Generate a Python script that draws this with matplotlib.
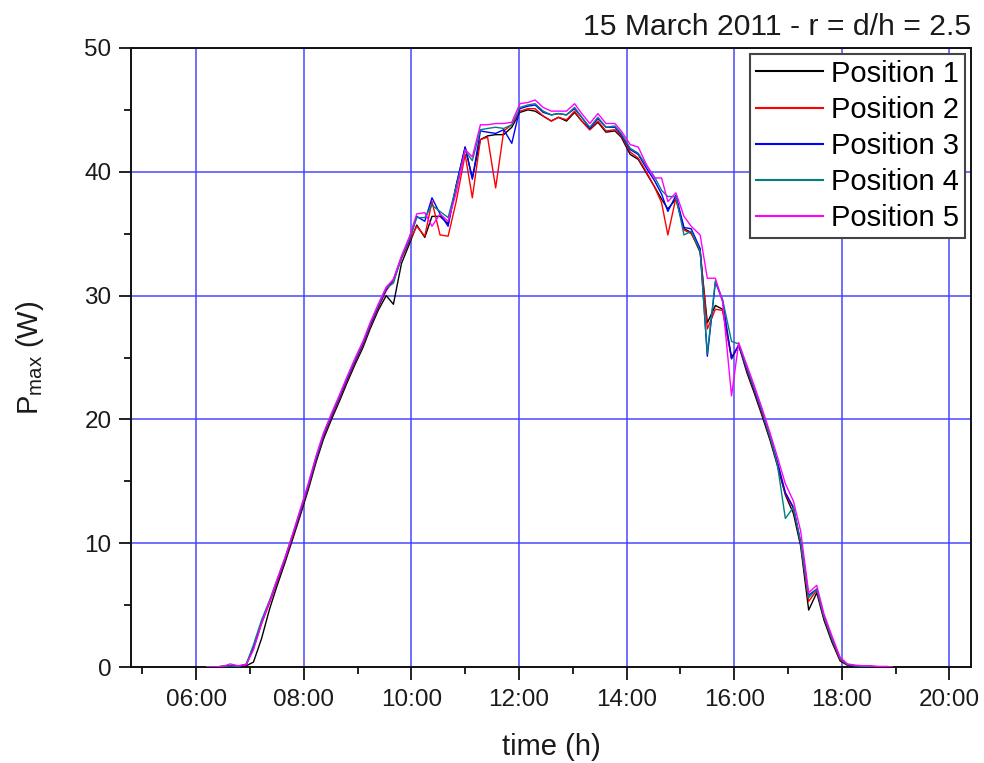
import matplotlib
matplotlib.use("Agg")
import matplotlib.pyplot as plt
from matplotlib.ticker import MultipleLocator, FuncFormatter
import pandas as pd

plt.rcParams["font.family"] = ["Liberation Sans", "DejaVu Sans"]
plt.rcParams["mathtext.fontset"] = "custom"
plt.rcParams["mathtext.rm"] = "Liberation Sans"
plt.rcParams["mathtext.it"] = "Liberation Sans:italic"

# Measurement times (local clock)
times = ["06:12", "06:21", "06:30", "06:38", "06:47", "06:56", "07:04", "07:13", "07:22", "07:30",
         "07:39", "07:48", "07:56", "08:05", "08:14", "08:22", "08:31", "08:40", "08:48", "08:57",
         "09:06", "09:14", "09:23", "09:32", "09:40", "09:49", "09:58", "10:06", "10:15", "10:23",
         "10:32", "10:41", "10:50", "11:00", "11:08", "11:17", "11:25", "11:34", "11:43", "11:52",
         "12:01", "12:10", "12:18", "12:27", "12:36", "12:44", "12:53", "13:02", "13:10", "13:19",
         "13:28", "13:37", "13:47", "13:54", "14:04", "14:13", "14:22", "14:31", "14:39", "14:46",
         "14:55", "15:04", "15:12", "15:22", "15:30", "15:39", "15:47", "15:57", "16:05", "16:14",
         "16:22", "16:31", "16:40", "16:48", "16:57", "17:06", "17:14", "17:23", "17:32", "17:40",
         "17:49", "17:58", "18:06", "18:15", "18:24", "18:32", "18:41", "18:50", "18:56"]

# Maximum power (W) for each module position
position_1 = [0.0, 0.0, 0.05, 0.1, 0.05, 0.1, 0.4, 2.3, 4.7, 6.5,
              8.4, 10.4, 12.2, 14.3, 16.6, 18.4, 20.0, 21.5, 22.9, 24.4,
              25.8, 27.3, 28.8, 30.0, 29.3, 32.6, 34.2, 35.7, 34.7, 36.4,
              36.4, 35.8, 38.9, 42.0, 39.5, 42.6, 42.9, 43.0, 43.0, 43.6,
              44.8, 45.0, 44.9, 44.5, 44.1, 44.4, 44.1, 44.8, 44.1, 43.4,
              44.0, 43.2, 43.3, 42.8, 41.4, 41.0, 39.9, 38.8, 37.8, 37.0,
              37.8, 35.4, 35.1, 33.5, 27.8, 29.2, 28.9, 25.0, 26.0, 23.8,
              22.2, 20.3, 18.3, 16.3, 13.9, 12.4, 9.8, 4.6, 6.0, 3.8,
              2.0, 0.5, 0.15, 0.1, 0.05, 0.05, 0.0, 0.0, 0.0]
position_2 = [0.0, 0.0, 0.05, 0.1, 0.05, 0.2, 1.5, 3.5, 5.2, 6.8,
              8.6, 10.6, 12.4, 14.5, 16.8, 18.6, 20.2, 21.7, 23.1, 24.6,
              26.0, 27.5, 29.0, 30.4, 31.2, 33.0, 34.4, 35.6, 34.8, 37.6,
              34.9, 34.8, 37.6, 41.4, 37.9, 42.6, 42.8, 38.7, 43.3, 43.8,
              44.9, 45.1, 45.1, 44.5, 44.1, 44.4, 44.2, 44.9, 44.1, 43.4,
              44.1, 43.3, 43.4, 42.9, 41.6, 41.1, 40.0, 38.8, 37.5, 34.9,
              37.9, 35.3, 35.0, 33.7, 27.3, 28.9, 28.8, 24.9, 26.0, 24.0,
              22.4, 20.5, 18.5, 16.5, 14.0, 12.8, 10.0, 5.3, 6.2, 4.0,
              2.2, 0.6, 0.2, 0.1, 0.05, 0.05, 0.0, 0.0, 0.0]
position_3 = [0.0, 0.0, 0.05, 0.1, 0.05, 0.2, 1.6, 3.6, 5.3, 6.9,
              8.7, 10.7, 12.5, 14.6, 16.9, 18.7, 20.3, 21.8, 23.2, 24.7,
              26.1, 27.6, 29.1, 30.5, 31.3, 33.1, 34.5, 36.4, 36.0, 37.9,
              36.6, 35.6, 38.9, 42.0, 39.4, 43.3, 43.2, 43.1, 43.4, 42.3,
              45.1, 45.3, 45.4, 44.8, 44.6, 44.7, 44.6, 45.1, 44.4, 43.5,
              44.3, 43.6, 43.6, 43.0, 41.8, 41.4, 40.3, 39.3, 38.2, 36.8,
              38.1, 35.5, 35.4, 33.8, 25.1, 31.1, 29.6, 24.9, 26.0, 24.1,
              22.5, 20.6, 18.6, 16.6, 14.1, 12.9, 10.1, 5.8, 6.3, 4.1,
              2.3, 0.7, 0.2, 0.1, 0.05, 0.05, 0.0, 0.0, 0.0]
position_4 = [0.0, 0.0, 0.05, 0.1, 0.05, 0.25, 1.8, 3.8, 5.4, 7.0,
              8.8, 10.8, 12.6, 14.7, 17.0, 18.8, 20.4, 21.9, 23.3, 24.8,
              26.2, 27.7, 29.2, 30.6, 31.0, 33.1, 34.6, 36.3, 36.3, 37.3,
              36.8, 36.3, 38.8, 41.7, 40.9, 43.4, 43.5, 43.6, 43.5, 43.8,
              45.2, 45.4, 45.5, 44.9, 44.6, 44.7, 44.6, 45.2, 44.4, 43.6,
              44.4, 43.6, 43.7, 43.1, 41.9, 41.5, 40.5, 39.6, 38.5, 38.0,
              38.0, 34.9, 35.2, 33.6, 25.3, 31.2, 29.7, 26.3, 26.1, 24.2,
              22.6, 20.7, 18.6, 16.4, 12.0, 12.9, 10.1, 5.6, 6.3, 4.1,
              2.3, 0.7, 0.2, 0.1, 0.05, 0.05, 0.0, 0.0, 0.0]
position_5 = [0.0, 0.0, 0.05, 0.25, 0.1, 0.2, 1.4, 3.5, 5.3, 7.0,
              8.8, 10.8, 12.7, 14.8, 17.1, 18.9, 20.5, 22.0, 23.4, 24.9,
              26.3, 27.8, 29.3, 30.7, 31.3, 33.2, 34.8, 36.6, 36.7, 35.6,
              36.6, 36.0, 38.3, 41.8, 41.2, 43.8, 43.8, 43.9, 43.9, 44.0,
              45.5, 45.6, 45.8, 45.2, 44.9, 44.9, 44.9, 45.5, 44.7, 43.9,
              44.7, 43.9, 43.9, 43.3, 42.2, 42.0, 40.6, 39.5, 39.5, 37.6,
              38.3, 36.4, 35.6, 34.9, 31.4, 31.4, 29.5, 21.9, 26.2, 24.4,
              22.8, 20.9, 18.9, 17.0, 14.8, 13.4, 11.0, 6.0, 6.6, 4.3,
              2.5, 0.8, 0.25, 0.15, 0.1, 0.1, 0.05, 0.05, 0.0]

labels = ["Position 1", "Position 2", "Position 3", "Position 4", "Position 5"]
colors = ["#000000", "#ff0000", "#0000ff", "#008080", "#ff00ff"]
series = [position_1, position_2, position_3, position_4, position_5]

td = pd.to_timedelta([t + ":00" for t in times])
hours = td.total_seconds() / 3600.0

fig = plt.figure(figsize=(9.84, 7.63), dpi=100)
ax = fig.add_axes([0.1331, 0.1258, 0.8537, 0.8113])

for vals, lab, col in zip(series, labels, colors):
    ax.plot(hours, vals, color=col, lw=1.0, label=lab, zorder=3)

ax.set_xlim(4.79, 20.40)
ax.set_ylim(0, 50)

ax.xaxis.set_major_locator(MultipleLocator(2))
ax.xaxis.set_minor_locator(MultipleLocator(1))
ax.yaxis.set_major_locator(MultipleLocator(10))
ax.yaxis.set_minor_locator(MultipleLocator(5))
ax.xaxis.set_major_formatter(FuncFormatter(lambda v, p: f"{int(round(v)):02d}:00"))

ax.grid(True, which="major", color="#3a3aff", lw=1.2, alpha=0.85, zorder=1)

for s in ax.spines.values():
    s.set_linewidth(1.4)
    s.set_color("#111111")

ax.tick_params(axis="both", which="major", direction="out", length=9, width=1.3,
               labelsize=17.5, color="#111111", labelcolor="#1a1a1a")
ax.tick_params(axis="both", which="minor", direction="out", length=5, width=1.3,
               color="#111111")
ax.tick_params(axis="x", which="major", pad=7)
ax.tick_params(axis="y", which="major", pad=5)
ax.tick_params(top=False, right=False, which="both")

ax.set_xlabel("time (h)", fontsize=21, labelpad=16, color="#1a1a1a")
ax.set_ylabel(r"P$_{\mathrm{max}}$ (W)", fontsize=21, labelpad=28, color="#1a1a1a")
ax.set_title("15 March 2011 - r = d/h = 2.5", loc="right", fontsize=21.7, pad=9,
             color="#1a1a1a")

leg = ax.legend(loc="upper right", fontsize=21, frameon=True, fancybox=False,
                borderaxespad=0.2, handlelength=2.3, handletextpad=0.3,
                labelspacing=0.28, borderpad=0.2)
leg.get_frame().set_edgecolor("#444444")
leg.get_frame().set_linewidth(1.5)
leg.get_frame().set_alpha(1.0)
for line in leg.get_lines():
    line.set_linewidth(1.5)

fig.savefig("out.png", dpi=100)
